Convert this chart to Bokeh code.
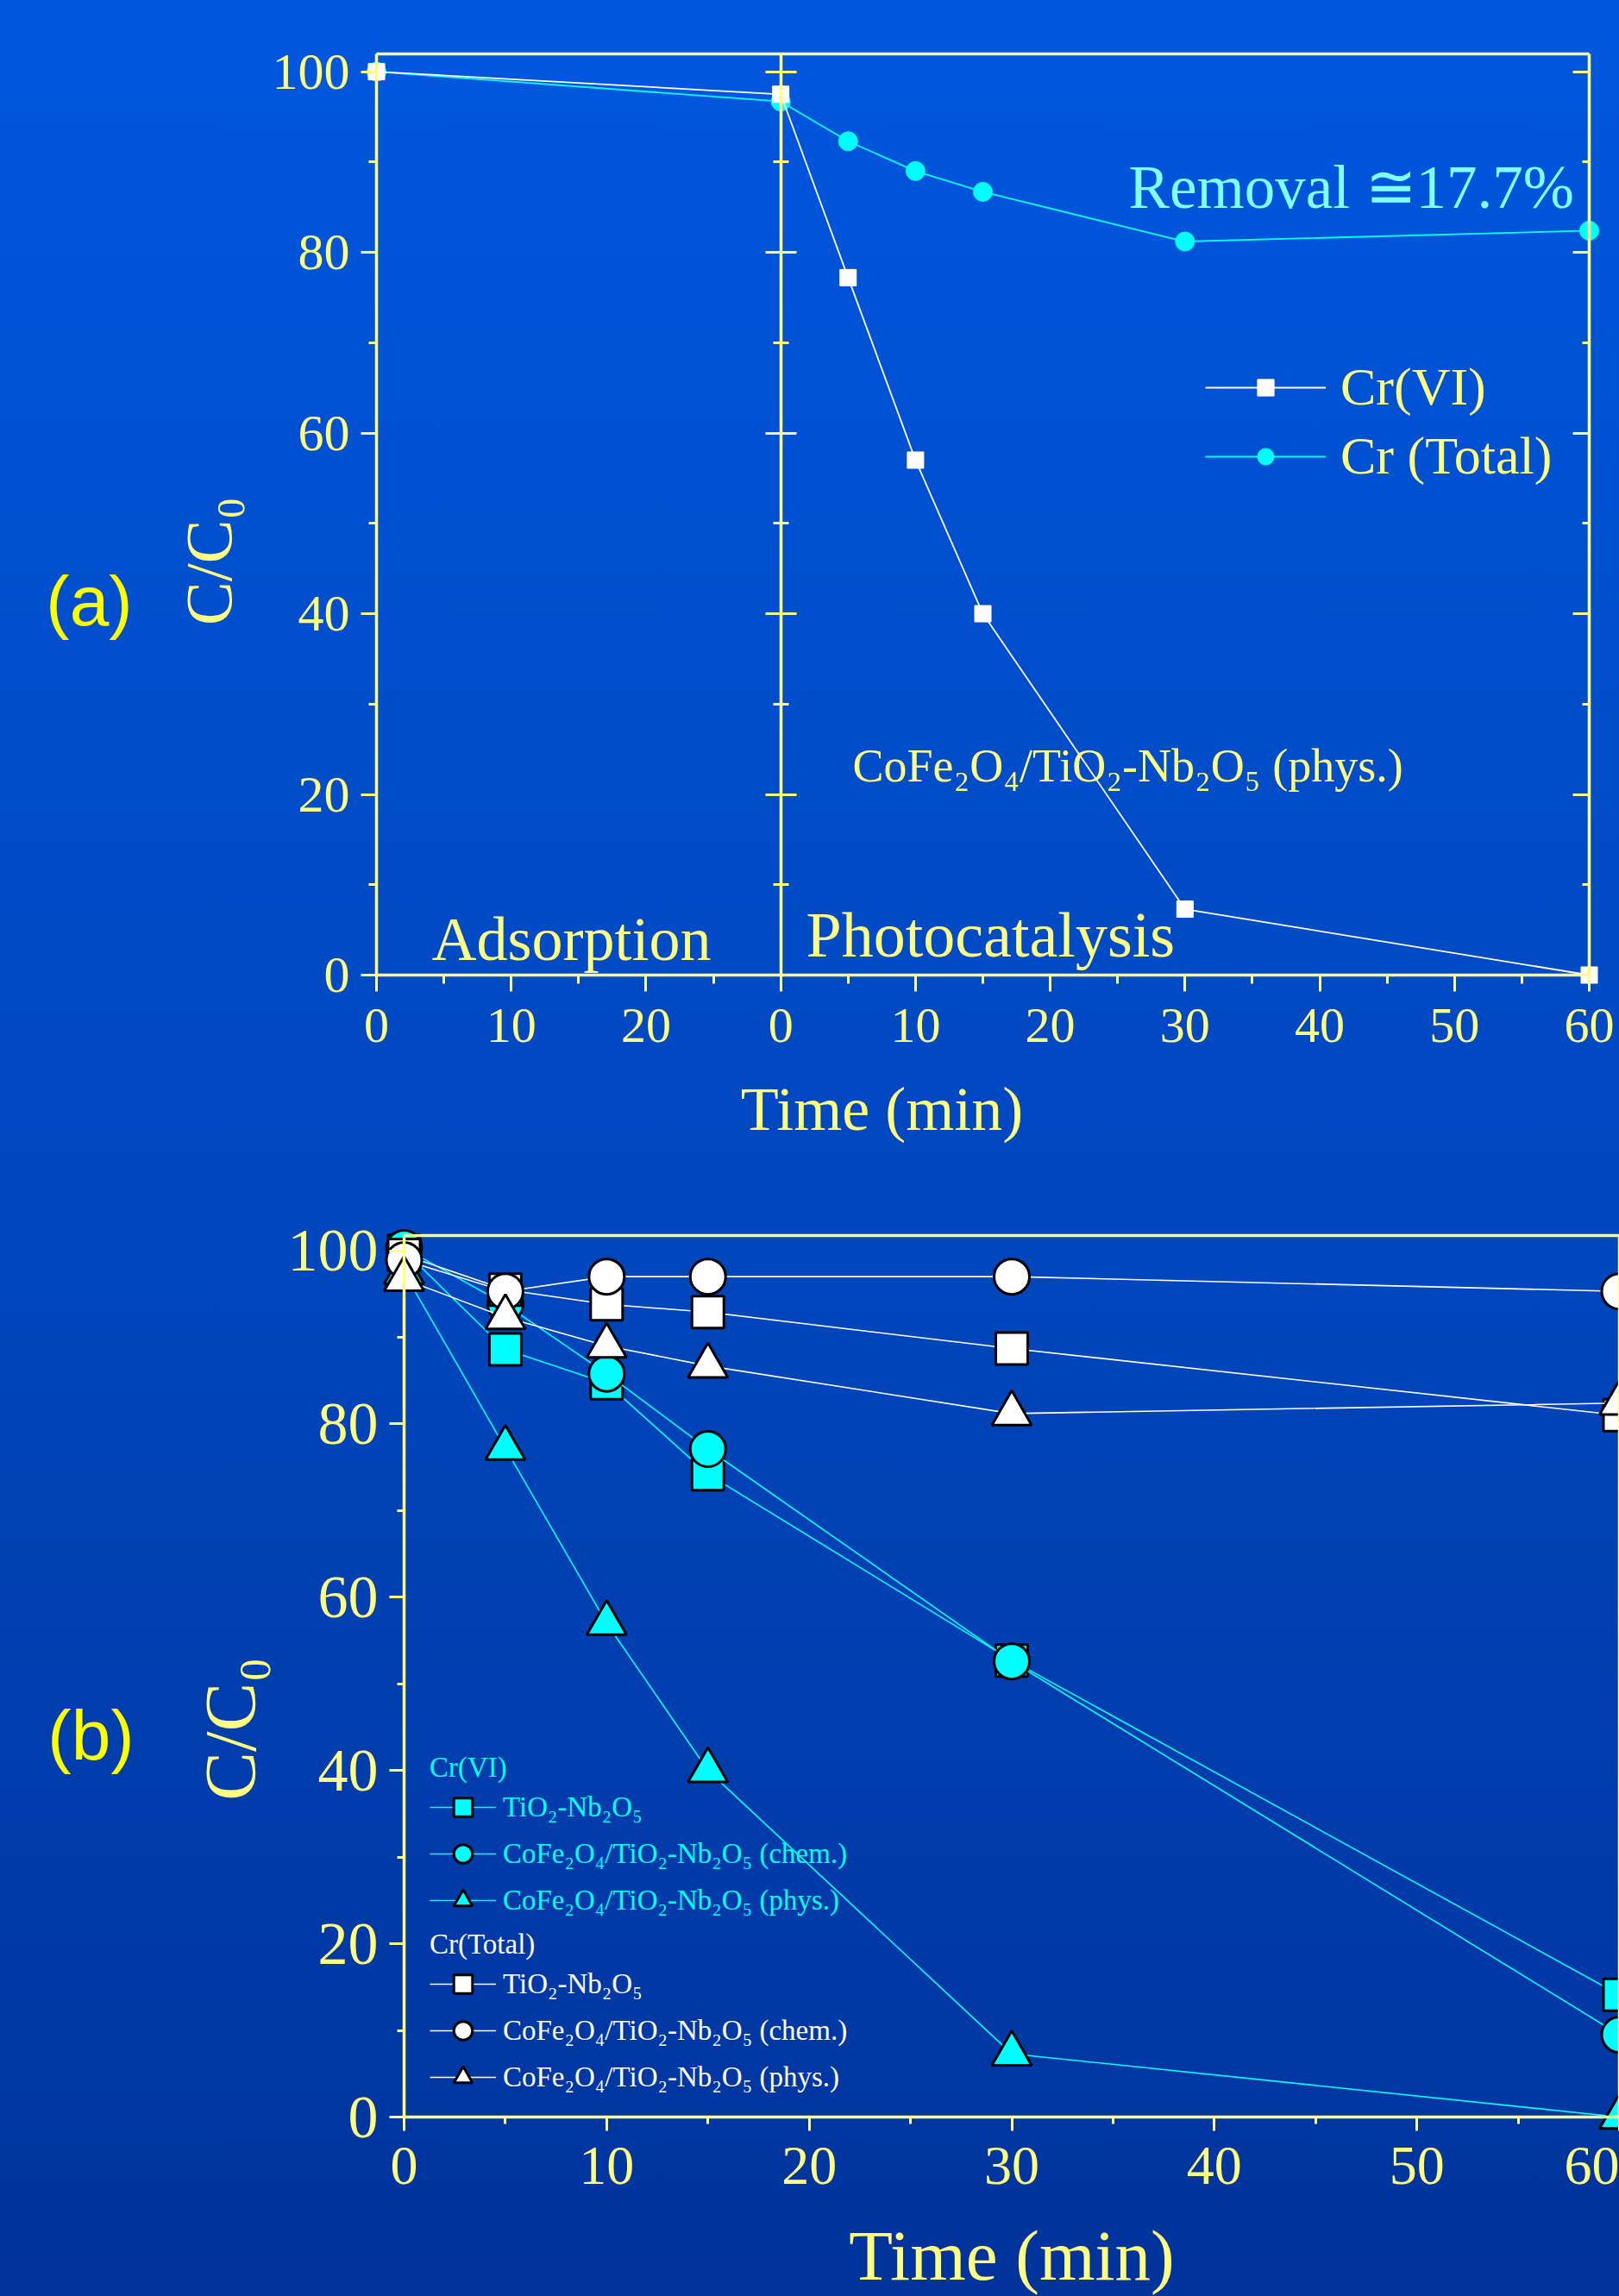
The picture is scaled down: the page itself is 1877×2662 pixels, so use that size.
import math
from bokeh.plotting import figure
from bokeh.models import Range1d, LinearAxis, FixedTicker, Label, Legend, LegendItem
from bokeh.layouts import column
from bokeh.embed import file_html
from bokeh.resources import INLINE

# ---------------- data ----------------
ADSORPTION_DURATION = 30            # min in the dark before the lamp is switched on
ads_time = [0]                      # adsorption-phase time (min)
photo_time = [0, 5, 10, 15, 30, 60] # photocatalysis time (min)

# panel (a): CoFe2O4/TiO2-Nb2O5 (phys.)
a_cr6_ads = [100.0]
a_cr6_photo = [97.5, 77.2, 57.0, 40.0, 7.3, 0.0]
a_crtot_ads = [100.0]
a_crtot_photo = [96.7, 92.3, 89.0, 86.7, 81.2, 82.4]

# panel (b)
b_time = [0, 5, 10, 15, 30, 60]
b_cr6_tn = [100.0, 88.6, 84.7, 74.2, 52.7, 14.1]
b_cr6_chem = [100.3, 93.8, 85.8, 77.1, 52.6, 9.5]
b_cr6_phys = [97.5, 77.2, 57.0, 40.0, 7.3, 0.0]
b_crtot_tn = [99.5, 95.5, 93.8, 92.9, 88.7, 81.0]
b_crtot_chem = [98.9, 95.3, 97.0, 97.0, 97.0, 95.3]
b_crtot_phys = [96.7, 92.3, 89.0, 86.7, 81.2, 82.4]

y_ticks = [0, 20, 40, 60, 80, 100]
a_x_ticks = [-30, -20, -10, 0, 10, 20, 30, 40, 50, 60]
a_x_tick_labels = ["0", "10", "20", "0", "10", "20", "30", "40", "50", "60"]
b_x_ticks = [0, 10, 20, 30, 40, 50, 60]

lbl_tn = "TiO\u2082-Nb\u2082O\u2085"
lbl_chem = "CoFe\u2082O\u2084/TiO\u2082-Nb\u2082O\u2085 (chem.)"
lbl_phys = "CoFe\u2082O\u2084/TiO\u2082-Nb\u2082O\u2085 (phys.)"

# ---------------- style ----------------
YEL = "#ffff80"
YEL_BRIGHT = "#ffff00"
CYAN = "#00ffff"
LCYAN = "#80ffff"
WHITE = "#ffffff"
SERIF = "Liberation Serif"
SANS = "Liberation Sans"
PAGE_W = 1877
BASELINE_FIX = 0.32   # empirical lift (in em) for alphabetic-baseline labels

def minor_of(ticks):
    return [(ticks[i] + ticks[i + 1]) / 2 for i in range(len(ticks) - 1)]

def style_axis(ax, font_size, tick_out, tick_in, minor_out, minor_in, standoff, show_labels=True):
    ax.axis_line_color = YEL
    ax.axis_line_width = 3.5
    ax.major_tick_line_color = YEL
    ax.major_tick_line_width = 3
    ax.minor_tick_line_color = YEL
    ax.minor_tick_line_width = 3
    ax.major_tick_out = tick_out
    ax.major_tick_in = tick_in
    ax.minor_tick_out = minor_out
    ax.minor_tick_in = minor_in
    ax.major_label_standoff = standoff
    ax.major_label_text_font = SERIF
    ax.major_label_text_font_size = font_size if show_labels else "0px"
    ax.major_label_text_color = YEL if show_labels else None

def add_label(p, px_per_y, x, y, text, size_px, color, font=SERIF, align="left",
              baseline="alphabetic", angle=0.0):
    if baseline == "alphabetic":
        y = y + BASELINE_FIX * size_px / px_per_y
    p.add_layout(Label(x=x, y=y, text=text, text_font=font, text_font_size=f"{size_px}px",
                       text_color=color, text_align=align, text_baseline=baseline,
                       angle=angle))

def make_fig(height, xr, yr):
    p = figure(width=PAGE_W, height=height, frame_width=PAGE_W, frame_height=height,
               min_border_left=0, min_border_right=0, min_border_top=0, min_border_bottom=0,
               x_range=Range1d(*xr), y_range=Range1d(*yr),
               x_axis_location=None, y_axis_location=None,
               toolbar_location=None, output_backend="svg",
               background_fill_color=None, border_fill_color=None,
               outline_line_color=None)
    p.grid.visible = False
    return p

# ================= panel (a) =================
A_H = 1373
A_X0, A_X1, A_YMAX = -ADSORPTION_DURATION, 60, 102.0
A_LEFT_PX, A_RIGHT_PX = 436, 1842     # where the -30 and 60 min axes sit
A_Y0_PX, A_Y100_PX = 1130, 82.6
a_sx = (A_RIGHT_PX - A_LEFT_PX) / (A_X1 - A_X0)
a_sy = (A_Y0_PX - A_Y100_PX) / 100.0
a_xr = (A_X0 - A_LEFT_PX / a_sx, A_X0 + (PAGE_W - A_LEFT_PX) / a_sx)
a_yr = (-(A_H - A_Y0_PX) / a_sy, A_Y0_PX / a_sy)
pa = make_fig(A_H, a_xr, a_yr)

ax = LinearAxis(fixed_location=A_X0, bounds=(0, A_YMAX),
                ticker=FixedTicker(ticks=y_ticks, minor_ticks=minor_of(y_ticks)))
style_axis(ax, "60px", 18, 0, 9, 0, 13)
pa.add_layout(ax, "left")
ax = LinearAxis(fixed_location=0, bounds=(0, A_YMAX),
                ticker=FixedTicker(ticks=y_ticks, minor_ticks=minor_of(y_ticks)))
style_axis(ax, "60px", 18, 18, 9, 9, 0, show_labels=False)
pa.add_layout(ax, "left")
ax = LinearAxis(fixed_location=A_X1, bounds=(0, A_YMAX),
                ticker=FixedTicker(ticks=y_ticks, minor_ticks=minor_of(y_ticks)))
style_axis(ax, "60px", 0, 19, 0, 8, 0, show_labels=False)
pa.add_layout(ax, "right")
ax = LinearAxis(fixed_location=0, bounds=(A_X0, A_X1),
                ticker=FixedTicker(ticks=a_x_ticks, minor_ticks=minor_of(a_x_ticks)),
                major_label_overrides={t: l for t, l in zip(a_x_ticks, a_x_tick_labels)})
style_axis(ax, "58px", 19, 0, 10, 0, 20)
pa.add_layout(ax, "below")
ax = LinearAxis(fixed_location=A_YMAX, bounds=(A_X0, A_X1), ticker=FixedTicker(ticks=[]))
style_axis(ax, "58px", 0, 0, 0, 0, 0, show_labels=False)
pa.add_layout(ax, "above")

a_x = [t - ADSORPTION_DURATION for t in ads_time] + photo_time
l2 = pa.line(a_x, a_crtot_ads + a_crtot_photo, line_color=CYAN, line_width=1.8)
s2 = pa.scatter(a_x, a_crtot_ads + a_crtot_photo, marker="circle", size=22,
                fill_color=CYAN, line_color=CYAN, line_width=1)
l1 = pa.line(a_x, a_cr6_ads + a_cr6_photo, line_color=WHITE, line_width=1.8)
s1 = pa.scatter(a_x, a_cr6_ads + a_cr6_photo, marker="square", size=19,
                fill_color=WHITE, line_color=WHITE, line_width=1)

leg_a = Legend(items=[LegendItem(label="Cr(VI)", renderers=[l1, s1]),
                      LegendItem(label="Cr (Total)", renderers=[l2, s2])],
               location=(1397, A_H - 564), orientation="vertical",
               glyph_width=140, glyph_height=48, label_standoff=17, spacing=9,
               padding=0, margin=0, border_line_color=None,
               background_fill_alpha=0, label_text_font=SERIF,
               label_text_font_size="62px", label_text_color=YEL)
pa.add_layout(leg_a)

add_label(pa, a_sy, -51.32, 41.44, "(a)", 82, YEL_BRIGHT, font=SANS, align="center", baseline="middle")
add_label(pa, a_sy, -42.42, 45.83, "C/C\u2080", 76, YEL, align="center", baseline="middle", angle=math.pi / 2)
add_label(pa, a_sy, 7.51, -17.04, "Time (min)", 72, YEL, align="center")
add_label(pa, a_sy, -25.9, 1.72, "Adsorption", 72, YEL)
add_label(pa, a_sy, 1.88, 2.14, "Photocatalysis", 74, YEL)
add_label(pa, a_sy, 25.82, 85.07, "Removal \u224517.7%", 71, LCYAN)
add_label(pa, a_sy, 5.33, 21.5, lbl_phys, 54, YEL)

# ================= panel (b) =================
B_TOP = A_H                      # page y where panel (b) starts
B_H = 2662 - A_H
B_X1, B_YMAX = 60, 101.7
B_LEFT_PX, B_RIGHT_PX = 468, PAGE_W   # 0 min and 60 min
B_Y0_PX, B_Y100_PX = 2454 - B_TOP, 1449.5 - B_TOP
b_sx = (B_RIGHT_PX - B_LEFT_PX) / B_X1
b_sy = (B_Y0_PX - B_Y100_PX) / 100.0
b_xr = (-B_LEFT_PX / b_sx, B_X1)
b_yr = (-(B_H - B_Y0_PX) / b_sy, B_Y0_PX / b_sy)
pb = make_fig(B_H, b_xr, b_yr)

ax = LinearAxis(fixed_location=0, bounds=(0, B_YMAX),
                ticker=FixedTicker(ticks=y_ticks, minor_ticks=minor_of(y_ticks)))
style_axis(ax, "70px", 17, 0, 8, 0, 13)
pb.add_layout(ax, "left")
ax = LinearAxis(fixed_location=0, bounds=(0, B_X1),
                ticker=FixedTicker(ticks=b_x_ticks, minor_ticks=minor_of(b_x_ticks)))
style_axis(ax, "64px", 16, 0, 8, 0, 19)
pb.add_layout(ax, "below")
ax = LinearAxis(fixed_location=B_YMAX, bounds=(0, B_X1), ticker=FixedTicker(ticks=[]))
style_axis(ax, "64px", 0, 0, 0, 0, 0, show_labels=False)
pb.add_layout(ax, "above")
ax = LinearAxis(fixed_location=B_X1, bounds=(0, B_YMAX), ticker=FixedTicker(ticks=[]))
style_axis(ax, "64px", 0, 0, 0, 0, 0, show_labels=False)
pb.add_layout(ax, "right")

series_b = [
    (b_cr6_tn, "square", 37, CYAN),
    (b_cr6_chem, "circle", 41, CYAN),
    (b_cr6_phys, "triangle", 46, CYAN),
    (b_crtot_tn, "square", 37, WHITE),
    (b_crtot_chem, "circle", 41, WHITE),
    (b_crtot_phys, "triangle", 46, WHITE),
]
rends = []
for vals, mk, sz, col in series_b:
    ln = pb.line(b_time, vals, line_color=col, line_width=1.6)
    sc = pb.scatter(b_time, vals, marker=mk, size=sz, fill_color=col,
                    line_color="black", line_width=3)
    rends.append([ln, sc])

names = [lbl_tn, lbl_chem, lbl_phys]
common = dict(orientation="vertical", glyph_width=77, glyph_height=54,
              label_standoff=8, spacing=0, padding=0, margin=0,
              border_line_color=None, background_fill_alpha=0,
              label_text_font=SERIF, label_text_font_size="33px",
              title_text_font=SERIF, title_text_font_size="33px",
              title_text_font_style="normal", title_standoff=0)
leg_b1 = Legend(items=[LegendItem(label=n, renderers=r) for n, r in zip(names, rends[:3])],
                title="Cr(VI)", title_text_color=CYAN, label_text_color=CYAN,
                location=(498, 432), **common)
leg_b2 = Legend(items=[LegendItem(label=n, renderers=r) for n, r in zip(names, rends[3:])],
                title="Cr(Total)", title_text_color=WHITE, label_text_color=WHITE,
                location=(498, 227), **common)
pb.add_layout(leg_b1)
pb.add_layout(leg_b2)

add_label(pb, b_sy, -15.46, 44.10, "(b)", 82, YEL_BRIGHT, font=SANS, align="center", baseline="middle")
add_label(pb, b_sy, -8.56, 44.80, "C/C\u2080", 85, YEL, align="center", baseline="middle", angle=math.pi / 2)
add_label(pb, b_sy, 30.0, -18.6, "Time (min)", 83, YEL, align="center")

layout = column(pa, pb, spacing=0)
css = ("html{background:linear-gradient(to bottom,#0057de 0%,#0046bd 55%,#00339b 100%);"
       "min-height:100%;} html,body{overflow:hidden;} body{background:transparent;}")
try:
    from bokeh.models import GlobalInlineStyleSheet
    layout.stylesheets = [GlobalInlineStyleSheet(css=css)]
except Exception:
    layout.styles = {"background": "linear-gradient(to bottom,#0057de,#00339b)"}

open("out.html", "w").write(file_html(layout, INLINE))
